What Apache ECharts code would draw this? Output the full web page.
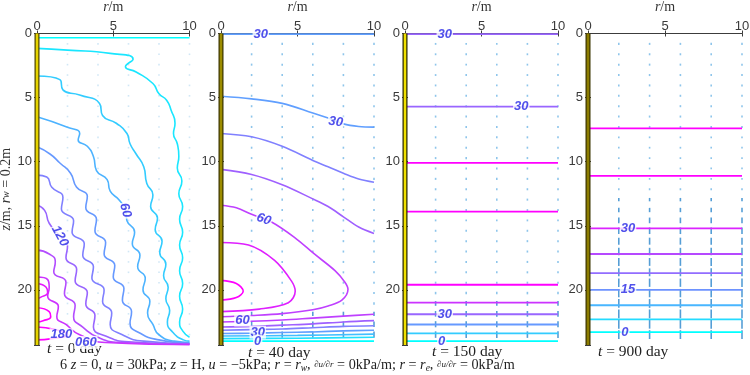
<!DOCTYPE html>
<html><head><meta charset="utf-8">
<script src="https://cdn.jsdelivr.net/npm/echarts@6/dist/echarts.min.js"></script>
<style>html,body{margin:0;padding:0;background:#fff}#c{width:750px;height:375px}</style>
</head><body><div id="c"></div>
<script>
// ---------- data ----------
const Z_MAX = 24.3;
const R_MAX = 10;
const rTicks = [0, 5, 10];
const zTicks = [0, 5, 10, 15, 20];
const timeLabels = ['0', '40', '150', '900'];
const quiverR = [2, 4, 6, 8, 10];
const quiverZ = [0.81,1.62,2.43,3.24,4.05,4.86,5.67,6.48,7.29,8.1,8.91,9.72,10.53,11.34,12.15,12.96,13.77,14.58,15.39,16.2,17.01,17.82,18.63,19.44,20.25,21.06,21.87,22.68,23.49];
// flow magnitude per quiver row (0..1)
const quiverMag1 = [0,0,0,0,0,0,0,0,0,0,0,0,0,0,0,0,0,0,0,0,0,0,0,0,0,0,0,0,0];
const quiverMag2 = [0.05,0.05,0.05,0.05,0.05,0.05,0.05,0.05,0.05,0.05,0.05,0.05,0.05,0.05,0.05,0.05,0.05,0.05,0.05,0.05,0.05,0.05,0.05,0.05,0.05,0.08,0.3,0.45,0.5];
const quiverMag3 = [0.03,0.03,0.03,0.03,0.03,0.05,0.05,0.05,0.05,0.05,0.05,0.05,0.05,0.05,0.05,0.05,0.03,0.03,0.05,0.05,0.05,0.05,0.05,0.05,0.1,0.35,0.45,0.5,0.55];
const quiverMag4 = [0.05,0.05,0.05,0.05,0.05,0.05,0.05,0.05,0.05,0.02,0.02,0.02,0.02,0.02,0.05,0.2,0.3,0.45,0.55,0.6,0.65,0.7,0.7,0.75,0.75,0.8,0.8,0.8,0.8];

// panel 1 (t = 0 day) contours: [r, z]
const p1Levels = [0, 20, 40, 60, 80, 100, 120, 140, 160, 180, 200, 220];
const p1c0 = [[0,0.33],[10,0.33]];
const p1c1 = [[0,1.16],[2,1.3],[4.8,1.55],[6.3,2.0],[5.8,2.6],[6.5,3.0],[7.6,3.9],[8.0,4.7],[8.5,5.2],[8.8,6.0],[9.05,7.0],[8.95,7.8],[9.2,8.6],[9.3,9.6],[9.2,10.5],[9.5,11.5],[9.3,12.5],[9.55,13.5],[9.35,14.5],[9.55,15.5],[9.35,16.5],[9.55,17.5],[9.35,18.5],[9.55,19.5],[9.35,20.5],[9.55,21.5],[9.35,22.5],[9.55,23.2],[10,23.7]];
const p1c2 = [[0,3.32],[1.5,3.6],[1.7,4.4],[2.8,4.8],[4.1,5.46],[4.3,6.4],[5.2,7.0],[5.9,7.8],[6.1,8.6],[6.5,9.4],[7.0,10.4],[7.2,11.7],[7.6,12.6],[7.45,13.5],[7.9,14.4],[7.75,15.3],[8.2,16.2],[8.05,17.1],[8.45,18.0],[8.3,18.9],[8.6,19.8],[8.45,20.7],[8.7,21.6],[8.55,22.5],[8.9,23.3],[9.6,23.9],[10,24.0]];
const p1c3 = [[0,6.5],[1.95,7.3],[2.8,7.8],[2.7,8.3],[3.3,8.8],[3.7,9.6],[3.9,10.7],[4.6,11.4],[4.8,12.3],[5.4,13.0],[5.8,13.8],[5.9,14.6],[6.4,15.5],[6.25,16.4],[6.75,17.3],[6.6,18.2],[7.1,19.1],[6.95,20.0],[7.4,20.9],[7.25,21.8],[7.6,22.7],[8.0,23.5],[9,24.0],[10,24.1]];
const p1c4 = [[0,8.84],[0.85,9.4],[1.5,10.1],[2.2,10.9],[2.6,12.0],[3.3,12.7],[3.2,13.6],[3.9,14.5],[3.8,15.4],[4.5,16.3],[4.4,17.2],[5.1,18.1],[5.0,19.0],[5.7,19.9],[5.6,20.8],[6.2,21.7],[6.1,22.6],[6.8,23.4],[8,23.9],[10,24.15]];
const p1c5 = [[0,11.05],[0.64,11.2],[0.97,12.0],[1.7,12.8],[1.6,13.7],[2.4,14.6],[2.3,15.5],[3.1,16.4],[3.0,17.3],[3.7,18.2],[3.6,19.1],[4.4,20.0],[4.3,20.9],[4.9,21.8],[4.8,22.7],[5.6,23.5],[7,24.0],[10,24.2]];
const p1c6 = [[0,13.4],[0.5,13.8],[0.8,14.8],[1.5,15.8],[2.0,16.6],[1.9,17.5],[2.6,18.4],[2.5,19.3],[3.3,20.2],[3.2,21.1],[3.8,22.0],[3.7,22.9],[4.5,23.6],[6,24.05],[10,24.22]];
const p1c7 = [[0,16.9],[0.8,17.2],[1.2,17.8],[1.1,18.6],[1.9,19.4],[1.8,20.3],[2.5,21.2],[2.4,22.1],[3.0,22.9],[4,23.7],[5.5,24.1],[10,24.25]];
const p1c8 = [[0,19.0],[0.7,19.2],[0.8,19.8],[0.7,20.5],[1.4,21.3],[1.3,22.1],[1.9,22.7],[2.8,23.5],[4.5,24.1],[10,24.27]];
const p1c9 = [[0,19.5],[0.6,19.8],[0.7,20.2],[0.2,20.6],[0,20.7]];
const p1c10 = [[0,21.4],[0.8,21.7],[0.9,22.1],[0.4,22.4],[0,22.5]];
const p1c11 = [[0,22.9],[1.2,23.1],[2.0,23.5],[1.0,23.8],[0,23.9]];
const p1Labels = [[5.8,13.8,'60'],[1.5,15.8,'120'],[1.6,23.5,'180'],[3.2,24.1,'060']];

// panel 2 (t = 40 day)
const p2Levels = [30, 30, 40, 50, 60, 70, 80, 60, 50, 40, 30, 20, 10, 0];
const p2c0 = [[0,0.05],[10,0.05]];
const p2c1 = [[0,4.9],[2,5.1],[4,5.45],[6,6.2],[7,6.6],[8,7.05],[9,7.25],[10,7.3]];
const p2c2 = [[0,7.8],[2,8.06],[4,8.8],[6,9.9],[7,10.4],[8,10.9],[9,11.35],[10,11.6]];
const p2c3 = [[0,10.6],[2,11.0],[4,11.8],[6,12.9],[7,13.5],[8,14.3],[9,15.1],[10,15.6]];
const p2c4 = [[0,13.4],[1,13.6],[2,14.1],[3.3,14.7],[4.8,15.9],[6.1,17.2],[7.45,18.5],[8.1,19.4],[8.3,19.95],[7.9,20.8],[7,21.25],[6,21.55],[4,21.85],[2,22.0],[0,22.1]];
const p2c5 = [[0,16.3],[1.8,16.5],[3.5,17.7],[4.6,19.3],[4.85,20.1],[4.4,21.0],[2.5,21.5],[0,21.7]];
const p2c6 = [[0,19.26],[1.0,19.5],[1.45,20.1],[1.0,20.6],[0,20.8]];
const p2c7 = [[0,22.5],[2,22.45],[4,22.35],[6,22.2],[8,22.05],[10,21.9]];
const p2c8 = [[0,22.9],[2,22.85],[4,22.75],[6,22.65],[8,22.5],[10,22.4]];
const p2c9 = [[0,23.15],[2,23.1],[4,23.05],[6,22.95],[8,22.85],[10,22.8]];
const p2c10 = [[0,23.4],[2,23.38],[4,23.33],[6,23.28],[8,23.2],[10,23.15]];
const p2c11 = [[0,23.6],[5,23.55],[10,23.45]];
const p2c12 = [[0,23.8],[5,23.77],[10,23.7]];
const p2c13 = [[0,24.0],[10,24.0]];
const p2Labels = [[2.6,0.05,'30'],[7.5,6.9,'30'],[2.8,14.5,'60'],[1.4,22.35,'60'],[2.4,23.3,'30'],[2.4,24.0,'0']];

// panel 3 (t = 150 day)
const p3Levels = [30, 30, 60, 60, 60, 40, 30, 20, 10, 0];
const p3c0 = [[0,0.05],[10,0.05]];
const p3c1 = [[0,5.7],[10,5.7]];
const p3c2 = [[0,10.1],[10,10.1]];
const p3c3 = [[0,13.9],[10,13.9]];
const p3c4 = [[0,19.6],[10,19.6]];
const p3c5 = [[0,21.0],[10,21.0]];
const p3c6 = [[0,21.9],[10,21.9]];
const p3c7 = [[0,22.7],[10,22.7]];
const p3c8 = [[0,23.4],[10,23.4]];
const p3c9 = [[0,24.0],[10,24.0]];
const p3Labels = [[2.6,0.05,'30'],[7.6,5.7,'30'],[2.6,21.9,'30'],[2.4,24.0,'0']];

// panel 4 (t = 900 day)
const p4Levels = [40, 40, 30, 25, 20, 15, 10, 5, 0];
const p4c0 = [[0,7.4],[10,7.4]];
const p4c1 = [[0,11.1],[10,11.1]];
const p4c2 = [[0,15.2],[10,15.2]];
const p4c3 = [[0,17.2],[10,17.2]];
const p4c4 = [[0,18.7],[10,18.7]];
const p4c5 = [[0,20.0],[10,20.0]];
const p4c6 = [[0,21.2],[10,21.2]];
const p4c7 = [[0,22.3],[10,22.3]];
const p4c8 = [[0,23.3],[10,23.3]];
const p4Labels = [[2.6,15.2,'30'],[2.6,20.0,'15'],[2.4,23.3,'0']];

// ---------- build ----------
const panels = [
  {contours:[p1c0,p1c1,p1c2,p1c3,p1c4,p1c5,p1c6,p1c7,p1c8,p1c9,p1c10,p1c11], levels:p1Levels, range:[0,200], labels:p1Labels, mag:quiverMag1, lw:1.6, smooth:0.55, labelRot:[-75,-62,0,0]},
  {contours:[p2c0,p2c1,p2c2,p2c3,p2c4,p2c5,p2c6,p2c7,p2c8,p2c9,p2c10,p2c11,p2c12,p2c13], levels:p2Levels, range:[0,80], labels:p2Labels, mag:quiverMag2, lw:1.6, smooth:0.35, labelRot:[0,-8,-20,0,0,0]},
  {contours:[p3c0,p3c1,p3c2,p3c3,p3c4,p3c5,p3c6,p3c7,p3c8,p3c9], levels:p3Levels, range:[0,50], labels:p3Labels, mag:quiverMag3, lw:1.8, smooth:0, labelRot:[0,0,0,0]},
  {contours:[p4c0,p4c1,p4c2,p4c3,p4c4,p4c5,p4c6,p4c7,p4c8], levels:p4Levels, range:[0,35], labels:p4Labels, mag:quiverMag4, lw:1.8, smooth:0, labelRot:[0,0,0]}
];
const gridLeft = [37, 221, 405, 588];
const gridWidth = [152.5, 153, 153, 154];
const drainFill = ['#e6d400', '#9c8c00', '#f0e000', '#8c7c00'];
const drainEdge = ['#4a4200', '#3a3400', '#222200', '#3a3400'];

function cool(level, range) {
  let t = (level - range[0]) / (range[1] - range[0]);
  t = Math.max(0, Math.min(1, t));
  return 'rgb(' + Math.round(255*t) + ',' + Math.round(255*(1-t)) + ',255)';
}

const grid = [], xAxis = [], yAxis = [], series = [];
const axColor = '#3c3c3c';
const labelFont = {fontFamily:'Liberation Sans', fontSize:13, color:'#3a3a3a'};
panels.forEach((p, i) => {
  grid.push({left: gridLeft[i], top: 33.5, width: gridWidth[i], height: 311.5, containLabel:false, outerBoundsMode:'none'});
  xAxis.push({gridIndex:i, type:'value', position:'top', min:0, max:R_MAX, interval:5,
    name:'{i|r}{n|/m}', nameLocation:'middle', nameGap:15,
    nameTextStyle:{rich:{i:{fontFamily:'Liberation Serif',fontStyle:'italic',fontSize:14,color:'#333'},n:{fontFamily:'Liberation Serif',fontSize:14,color:'#333'}}},
    axisLine:{show:true, lineStyle:{color:axColor, width:1}},
    axisTick:{show:true, inside:true, length:3, lineStyle:{color:axColor}},
    axisLabel:Object.assign({show:true, margin:1}, labelFont),
    splitLine:{show:false}});
  xAxis.push({gridIndex:i, type:'value', position:'bottom', min:0, max:R_MAX, interval:5,
    axisLine:{show:true, lineStyle:{color:axColor, width:1}},
    axisTick:{show:true, inside:true, length:3, lineStyle:{color:axColor}},
    axisLabel:{show:false}, splitLine:{show:false}});
  yAxis.push({gridIndex:i, type:'value', inverse:true, min:0, max:Z_MAX, interval:5, position:'left',
    name: i===0 ? '{i|z}{n|/m, }{i|r}{s|w}{n| = 0.2m}' : '', nameLocation:'middle', nameGap:22, nameRotate:90,
    nameTextStyle:{rich:{i:{fontFamily:'Liberation Serif',fontStyle:'italic',fontSize:14,color:'#333'},n:{fontFamily:'Liberation Serif',fontSize:14,color:'#333'},s:{fontFamily:'Liberation Serif',fontStyle:'italic',fontSize:10,color:'#333'}}},
    axisLine:{show:true, lineStyle:{color:axColor, width:1}},
    axisTick:{show:true, inside:true, length:3, lineStyle:{color:axColor}},
    axisLabel:Object.assign({show:true, margin:5,
      formatter: v => (zTicks.indexOf(v) >= 0 ? String(v) : '')}, labelFont),
    splitLine:{show:false}});
  yAxis.push({gridIndex:i, type:'value', inverse:true, min:0, max:Z_MAX, interval:5, position:'right',
    axisLine:{show:true, lineStyle:{color:axColor, width:1}},
    axisTick:{show:true, inside:true, length:3, lineStyle:{color:axColor}},
    axisLabel:{show:false}, splitLine:{show:false}});
  const xi = 2*i, yi = 2*i;
  // quiver marks
  const qdata = [];
  quiverZ.forEach((z, k) => {
    quiverR.forEach(r => qdata.push([r, z, p.mag[k]]));
  });
  series.push({type:'scatter', xAxisIndex:xi, yAxisIndex:yi, data:qdata, symbol:'rect', silent:true, z:1,
    symbolSize: v => [1.6, 1.6 + v[2]*9],
    itemStyle:{color: params => {
      const m = params.value[2];
      if (i === 0) return 'rgba(150,200,235,0.55)';
      return m > 0.15 ? '#2a86cc' : 'rgba(90,170,225,0.85)';
    }}});
  // contours
  p.contours.forEach((c, k) => {
    series.push({type:'line', xAxisIndex:xi, yAxisIndex:yi, data:c, showSymbol:false, symbol:'none', silent:true, z:3,
      smooth:p.smooth, clip:true,
      lineStyle:{color: cool(p.levels[k], p.range), width:p.lw}});
  });
  // drain bar
  series.push({type:'line', xAxisIndex:xi, yAxisIndex:yi, data:[[0,0],[0,Z_MAX]], showSymbol:false, silent:true, z:5, clip:false,
    lineStyle:{color:drainEdge[i], width:5}});
  series.push({type:'line', xAxisIndex:xi, yAxisIndex:yi, data:[[0,0],[0,Z_MAX]], showSymbol:false, silent:true, z:6, clip:false,
    lineStyle:{color:drainFill[i], width:2.6}});
  // labels
  series.push({type:'scatter', xAxisIndex:xi, yAxisIndex:yi, symbolSize:0, silent:true, z:8,
    data: p.labels.map((l, k) => ({value:l, label:{rotate:p.labelRot[k] || 0}})),
    label:{show:true, position:'inside', formatter: q => q.value[2], color:'#2626e6', fontSize:13, fontWeight:'bold',
      fontFamily:'Liberation Sans', fontStyle:'italic', backgroundColor:'#fff', padding:[0,1]}});
});

const tPos = [[47,350],[248,354],[432,353],[598,353]];
const graphic = timeLabels.map((t, i) => ({type:'text', left:tPos[i][0], top:tPos[i][1]-9,
  style:{rich:{i:{fontFamily:'Liberation Serif',fontStyle:'italic',fontSize:15.5,fill:'#222'},n:{fontFamily:'Liberation Serif',fontSize:15.5,fill:'#222'}},
    text:'{i|t}{n| = ' + t + ' day}'}}));
graphic.push({type:'text', left:60, top:358,
  style:{rich:{
    n:{fontFamily:'Liberation Serif',fontSize:14.2,fill:'#222'},
    i:{fontFamily:'Liberation Serif',fontStyle:'italic',fontSize:14.2,fill:'#222'},
    s:{fontFamily:'Liberation Serif',fontStyle:'italic',fontSize:9.5,fill:'#222',padding:[6,0,0,0]},
    f:{fontFamily:'Liberation Serif',fontStyle:'italic',fontSize:9,fill:'#222'}},
    text:'{n|6 }{i|z}{n| = 0, }{i|u}{n| = 30kPa; }{i|z}{n| = H, }{i|u}{n| = −5kPa; }{i|r}{n| = }{i|r}{s|w}{n|, }{f|∂u/∂r}{n| = 0kPa/m; }{i|r}{n| = }{i|r}{s|e}{n|, }{f|∂u/∂r}{n| = 0kPa/m}'}});

const chart = echarts.init(document.getElementById('c'), null, {renderer:'canvas'});
chart.setOption({animation:false, backgroundColor:'#fff', grid, xAxis, yAxis, series, graphic});
</script></body></html>
